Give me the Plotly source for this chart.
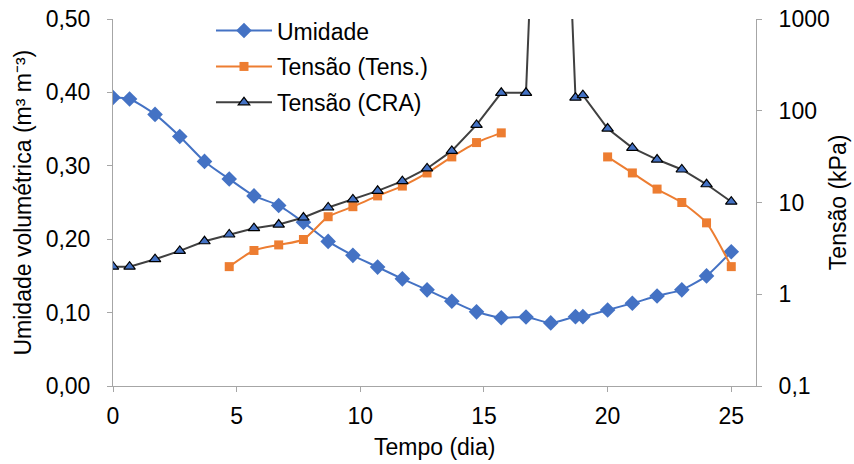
import plotly.graph_objects as go

tempo = [0, 0.67, 1.7, 2.7, 3.7, 4.7, 5.7, 6.7, 7.7, 8.7, 9.7, 10.7, 11.7, 12.7,
         13.7, 14.7, 15.7, 16.7, 17.7, 18.7, 19, 20, 21, 22, 23, 24, 25]

umidade = [0.393, 0.391, 0.370, 0.340, 0.306, 0.282, 0.259, 0.246, 0.223, 0.197,
           0.178, 0.162, 0.146, 0.131, 0.1155, 0.101, 0.093, 0.094, 0.086, 0.0945,
           0.0945, 0.1036, 0.1127, 0.1227, 0.131, 0.150, 0.183]

tensao_tens = [None, None, None, None, None, 2.0, 3.0, 3.45, 3.95, 7.0, 9.0, 11.8,
               15.1, 21.0, 31.4, 45.0, 57.4, None, None, None, None, 31.4, 21.0,
               14.0, 10.0, 6.0, 2.0]

tensao_cra = [2.0, 2.0, 2.41, 2.97, 3.78, 4.48, 5.25, 5.75, 6.86, 8.82, 10.8, 13.4,
              17.1, 23.5, 36.5, 70.0, 157.0, 157.0, 7e8, 139.0, 148.0, 64.0, 39.4,
              29.4, 22.9, 15.8, 10.2]

y2_tickvals = [0.1, 1, 10, 100, 1000]
y2_ticktext = ["0,1", "1", "10", "100", "1000"]

FONT = "Liberation Sans, Arial, sans-serif"
FS = 23
AXCOL = "#A6A6A6"
BLUE = "#4472C4"
ORANGE = "#ED7D31"
DARK = "#404040"

fig = go.Figure()

fig.add_trace(go.Scatter(
    x=tempo, y=umidade, name="Umidade", mode="lines+markers",
    line=dict(color=BLUE, width=2, shape="spline", smoothing=0.6),
    marker=dict(symbol="diamond", size=12, color=BLUE, line=dict(width=0)),
    legendgroup="a",
))
fig.add_trace(go.Scatter(
    x=tempo, y=tensao_tens, name="Tensão (Tens.)", mode="lines+markers",
    line=dict(color=ORANGE, width=2, shape="spline", smoothing=0.6),
    marker=dict(symbol="square", size=9, color=ORANGE, line=dict(width=0)),
    connectgaps=False, yaxis="y2", legendgroup="b",
))
fig.add_trace(go.Scatter(
    x=tempo, y=tensao_cra, name="Tensão (CRA)", mode="lines+markers",
    line=dict(color=DARK, width=2),
    marker=dict(symbol="triangle-up", size=10, color=BLUE, line=dict(width=1.2, color="#000000")),
    yaxis="y2", legendgroup="c",
))

axis_common = dict(
    showgrid=False, zeroline=False, automargin=False,
    showline=True, linecolor=AXCOL, linewidth=1,
    ticks="outside", ticklen=5, tickcolor=AXCOL,
    tickfont=dict(size=FS, color="#000000"),
    ticklabeloverflow="allow",
)

fig.update_layout(
    width=854, height=464,
    margin=dict(l=113, r=98, t=19, b=78, autoexpand=False),
    paper_bgcolor="white", plot_bgcolor="white",
    separators=",.",
    font=dict(family=FONT, size=FS, color="#000000"),
    showlegend=True,
    legend=dict(
        x=0.1524, y=1.027, xanchor="left", yanchor="top",
        bgcolor="rgba(0,0,0,0)", font=dict(size=FS),
        itemwidth=56, tracegroupgap=3, traceorder="grouped",
    ),
    xaxis=dict(range=[0, 26], dtick=5, tick0=0, ticklabelstandoff=4, **axis_common),
    yaxis=dict(range=[0, 0.5], dtick=0.1, tickformat=".2f", ticklabelstandoff=12, **axis_common),
    yaxis2=dict(
        type="log", range=[-1, 3], overlaying="y", side="right",
        tickvals=y2_tickvals, ticktext=y2_ticktext, ticklabelstandoff=12, **axis_common,
    ),
    annotations=[
        dict(text="Tempo (dia)", xref="paper", yref="paper", x=0.5, y=-0.166,
             xanchor="center", yanchor="middle", showarrow=False, font=dict(size=FS)),
        dict(text="Umidade volumétrica (m³ m⁻³)", xref="paper", yref="paper",
             x=-0.1415, y=0.5, xanchor="center", yanchor="middle", textangle=-90,
             showarrow=False, font=dict(size=FS)),
        dict(text="Tensão (kPa)", xref="paper", yref="paper",
             x=1.127, y=0.5, xanchor="center", yanchor="middle", textangle=-90,
             showarrow=False, font=dict(size=FS)),
    ],
)

# remove the default 8 px page margin so the 854x464 figure fills the window
fig.write_html("out.html", config={"displayModeBar": False},
               post_script="document.body.style.margin='0';")
